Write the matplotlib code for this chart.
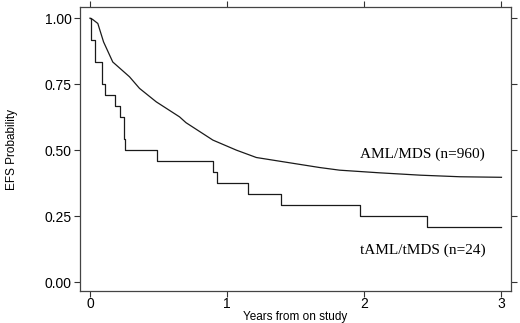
import matplotlib
matplotlib.use("Agg")
import matplotlib.pyplot as plt

# AML/MDS (n=960) Kaplan-Meier curve
aml_years = [0.0, 0.02, 0.057, 0.099, 0.166, 0.288, 0.361, 0.483, 0.653, 0.70, 0.896,
             1.067, 1.213, 1.407, 1.675, 1.82, 2.11, 2.41, 2.70, 3.0]
aml_efs = [1.0, 0.995, 0.98, 0.91, 0.834, 0.778, 0.734, 0.683, 0.626, 0.604, 0.538,
           0.50, 0.472, 0.456, 0.434, 0.424, 0.414, 0.405, 0.399, 0.397]

# tAML/tMDS (n=24) step curve
taml_years = [0.0, 0.004, 0.033, 0.084, 0.113, 0.184, 0.22, 0.245, 0.252, 0.49,
              0.896, 0.926, 1.152, 1.395, 1.967, 2.454, 3.0]
taml_efs = [1.0, 0.917, 0.833, 0.75, 0.708, 0.667, 0.625, 0.542, 0.50, 0.458,
            0.417, 0.375, 0.333, 0.292, 0.25, 0.208, 0.208]

x_ticks = [0, 1, 2, 3]
y_ticks = [0.0, 0.25, 0.5, 0.75, 1.0]
y_tick_labels = ["0.00", "0.25", "0.50", "0.75", "1.00"]

fig = plt.figure(figsize=(5.2, 3.23), dpi=100)
ax = fig.add_axes([0.1538, 0.099, 0.829, 0.879])

line_color = "#1a1a1a"
ax.plot(aml_years, aml_efs, color=line_color, linewidth=0.9)
ax.step(taml_years, taml_efs, where="post", color=line_color, linewidth=0.9)

ax.set_xlim(-0.073, 3.07)
ax.set_ylim(-0.034, 1.042)

ax.set_xticks(x_ticks)
ax.set_yticks(y_ticks)
ax.set_yticklabels(y_tick_labels)
ax.tick_params(direction="out", length=4.5, width=0.8, colors="#333333",
               top=True, right=True, labeltop=False, labelright=False,
               labelsize=10)
ax.tick_params(axis="x", pad=0)
ax.tick_params(axis="y", pad=1.5)
for lab in ax.get_xticklabels() + ax.get_yticklabels():
    lab.set_family("Liberation Sans")
    lab.set_color("black")

for spine in ax.spines.values():
    spine.set_color("#444444")
    spine.set_linewidth(0.9)

ax.set_xlabel("Years from on study", family="Liberation Sans", fontsize=8.5, labelpad=0)
ax.set_ylabel("EFS Probability", family="Liberation Sans", fontsize=8.5, labelpad=19)

ax.text(1.967, 0.485, "AML/MDS (n=960)", family="Liberation Serif", fontsize=11,
        va="center", ha="left")
ax.text(1.967, 0.121, "tAML/tMDS (n=24)", family="Liberation Serif", fontsize=11,
        va="center", ha="left")

fig.savefig("out.png", dpi=100)
